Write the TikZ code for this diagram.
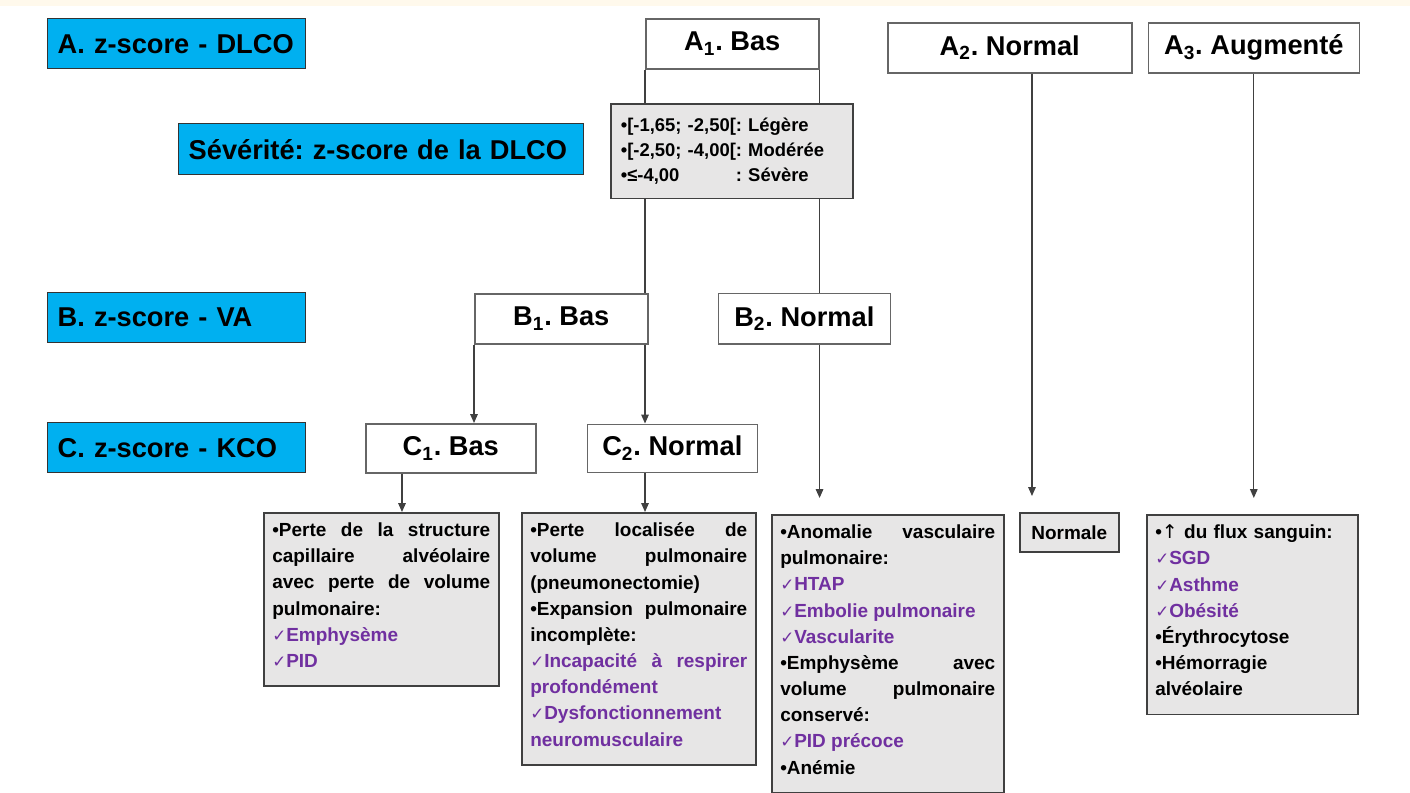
\documentclass[tikz,border=0pt]{standalone}
\usepackage{fontspec}
\setmainfont{Liberation Sans}
\newfontfamily\symbfont{DejaVu Sans}
\usetikzlibrary{arrows.meta,positioning,calc}

\definecolor{bandblue}{RGB}{0,176,240}
\definecolor{boxgray}{RGB}{231,230,230}
\definecolor{itemviolet}{RGB}{112,48,160}
\definecolor{linegray}{RGB}{64,64,64}
\definecolor{cream}{RGB}{255,249,236}

\newcommand{\vchk}[1]{{\color{itemviolet}{\symbfont\mdseries\fontsize{9.5}{9.5}\selectfont ✓}#1}}
\newcommand{\infoend}{\rule[-5pt]{0pt}{5pt}}
\hyphenpenalty=10000
\tolerance=10000
\frenchspacing

\begin{document}
\begin{tikzpicture}[x=0.02cm, y=-0.02cm,
    band/.style={draw=black!80, fill=bandblue, line width=0.8pt, anchor=north west,
    minimum height=1cm, inner xsep=0.2cm, align=left, font=\bfseries\fontsize{15.5}{18}\selectfont},
    level/.style={draw=black!60, fill=white, line width=0.9pt, anchor=north west,
    minimum height=1cm, inner sep=0pt, font=\bfseries\fontsize{15.5}{18}\selectfont},
    info/.style={draw=black!75, fill=boxgray, line width=0.9pt, anchor=north west, align=justify,
    inner xsep=0.17cm, inner ysep=0.2cm, font=\bfseries\fontsize{10.8}{14.9}\selectfont},
    link/.style={draw=linegray, line width=0.75pt},
    arr/.style={link, -{Triangle[length=5pt,width=4.2pt]}}]

    \useasboundingbox (0,0) rectangle (1410,792);
    \fill[white] (0,0) rectangle (1410,792);
    \fill[cream] (0,0) rectangle (1410,6);

    \node[band, text width=4.76cm] (bandA) at (47,18) {A. z-score - DLCO};
    \node[band, text width=7.7cm, minimum height=1.02cm] (bandS) at (178,123) {Sévérité: z-score de la DLCO};
    \node[band, text width=4.76cm] (bandB) at (47,292) {B. z-score - VA};
    \node[band, text width=4.76cm] (bandC) at (47,422) {C. z-score - KCO};

    \node[level, minimum width=3.46cm] (a1) at (645,18) {A\textsubscript{1}. Bas};
    \node[level, minimum width=4.88cm] (a2) at (887,22) {A\textsubscript{2}. Normal};
    \node[level, minimum width=4.22cm, right=0.3cm of a2] (a3) {A\textsubscript{3}. Augmenté};
    \node[level, minimum width=3.46cm] (b1) at (474,293) {B\textsubscript{1}. Bas};
    \node[level, minimum width=3.44cm, minimum height=1.02cm, right=1.38cm of b1] (b2) {B\textsubscript{2}. Normal};
    \node[level, minimum width=3.4cm, minimum height=0.98cm] (c1) at (365,423) {C\textsubscript{1}. Bas};
    \node[level, minimum width=3.4cm, minimum height=0.96cm, right=1cm of c1] (c2) {C\textsubscript{2}. Normal};

    \node[info, text width=4.44cm, align=left, inner xsep=0.2cm, minimum height=1.86cm,
    font=\bfseries\fontsize{10.5}{14.2}\selectfont] (sev) at (610,103) {
        \begin{tabular}{@{}l@{}l@{}}
            •[-1,65; -2,50[ & : Légère \\
            •[-2,50; -4,00[ & : Modérée \\
            •≤-4,00 & : Sévère
        \end{tabular}
    };

    \node[info, text width=4.36cm] (infoc1) at (263,512) {
        •Perte de la structure\linebreak capillaire alvéolaire\linebreak
        avec perte de volume\linebreak pulmonaire:\\
        \vchk{Emphysème}\\ \vchk{PID}\infoend
    };
    \node[info, text width=4.34cm] (infoc2) at (521,512) {
        •Perte localisée de\linebreak volume pulmonaire\linebreak (pneumonectomie)\\
        •Expansion pulmonaire\linebreak incomplète:\\
        \vchk{Incapacité à respirer\linebreak profondément}\\
        \vchk{Dysfonctionnement\\ neuromusculaire}\infoend
    };
    \node[info, text width=4.30cm] (infob2) at (771,514) {
        •Anomalie vasculaire\linebreak pulmonaire:\\
        \vchk{HTAP}\\ \vchk{Embolie pulmonaire}\\ \vchk{Vascularite}\\
        •Emphysème avec\linebreak volume pulmonaire\linebreak conservé:\\
        \vchk{PID précoce}\\ •Anémie\infoend
    };
    \node[info, align=center, inner sep=0pt, minimum width=1.98cm, minimum height=0.78cm] (norm) at (1019,512) {Normale};
    \node[info, text width=3.88cm, align=left] (infoa3) at (1146,514) {
        •{\symbfont\mdseries ↑} du flux sanguin:\\
        \vchk{SGD}\\ \vchk{Asthme}\\ \vchk{Obésité}\\
        •Érythrocytose\\ •Hémorragie\\ alvéolaire\infoend
    };

    \draw[link] (a1.south west) -- (a1.south west |- sev.north);
    \draw[link] (a1.south east) -- (a1.south east |- sev.north);
    \draw[link] (a1.south west |- sev.south) -- (a1.south west |- b1.north);
    \draw[link] (a1.south east |- sev.south) -- (a1.south east |- b2.north);
    \draw[arr] (a1.south west |- b1.south) -- (a1.south west |- c2.north);
    \draw[arr] (b1.south west) -- (b1.south west |- c1.north);
    \coordinate (c1out) at ([xshift=0.74cm]c1.south west);
    \draw[arr] (c1out) -- (c1out |- infoc1.north);
    \draw[arr] (a1.south west |- c2.south) -- (a1.south west |- infoc2.north);
    \draw[arr, shorten >=0.32cm] (a1.south east |- b2.south) -- (a1.south east |- infob2.north);
    \coordinate (a2out) at ([xshift=2.9cm]a2.south west);
    \draw[arr, shorten >=0.32cm] (a2out) -- (a2out |- norm.north);
    \draw[arr, shorten >=0.32cm] (a3.south) -- (a3.south |- infoa3.north);
\end{tikzpicture}
\end{document}
